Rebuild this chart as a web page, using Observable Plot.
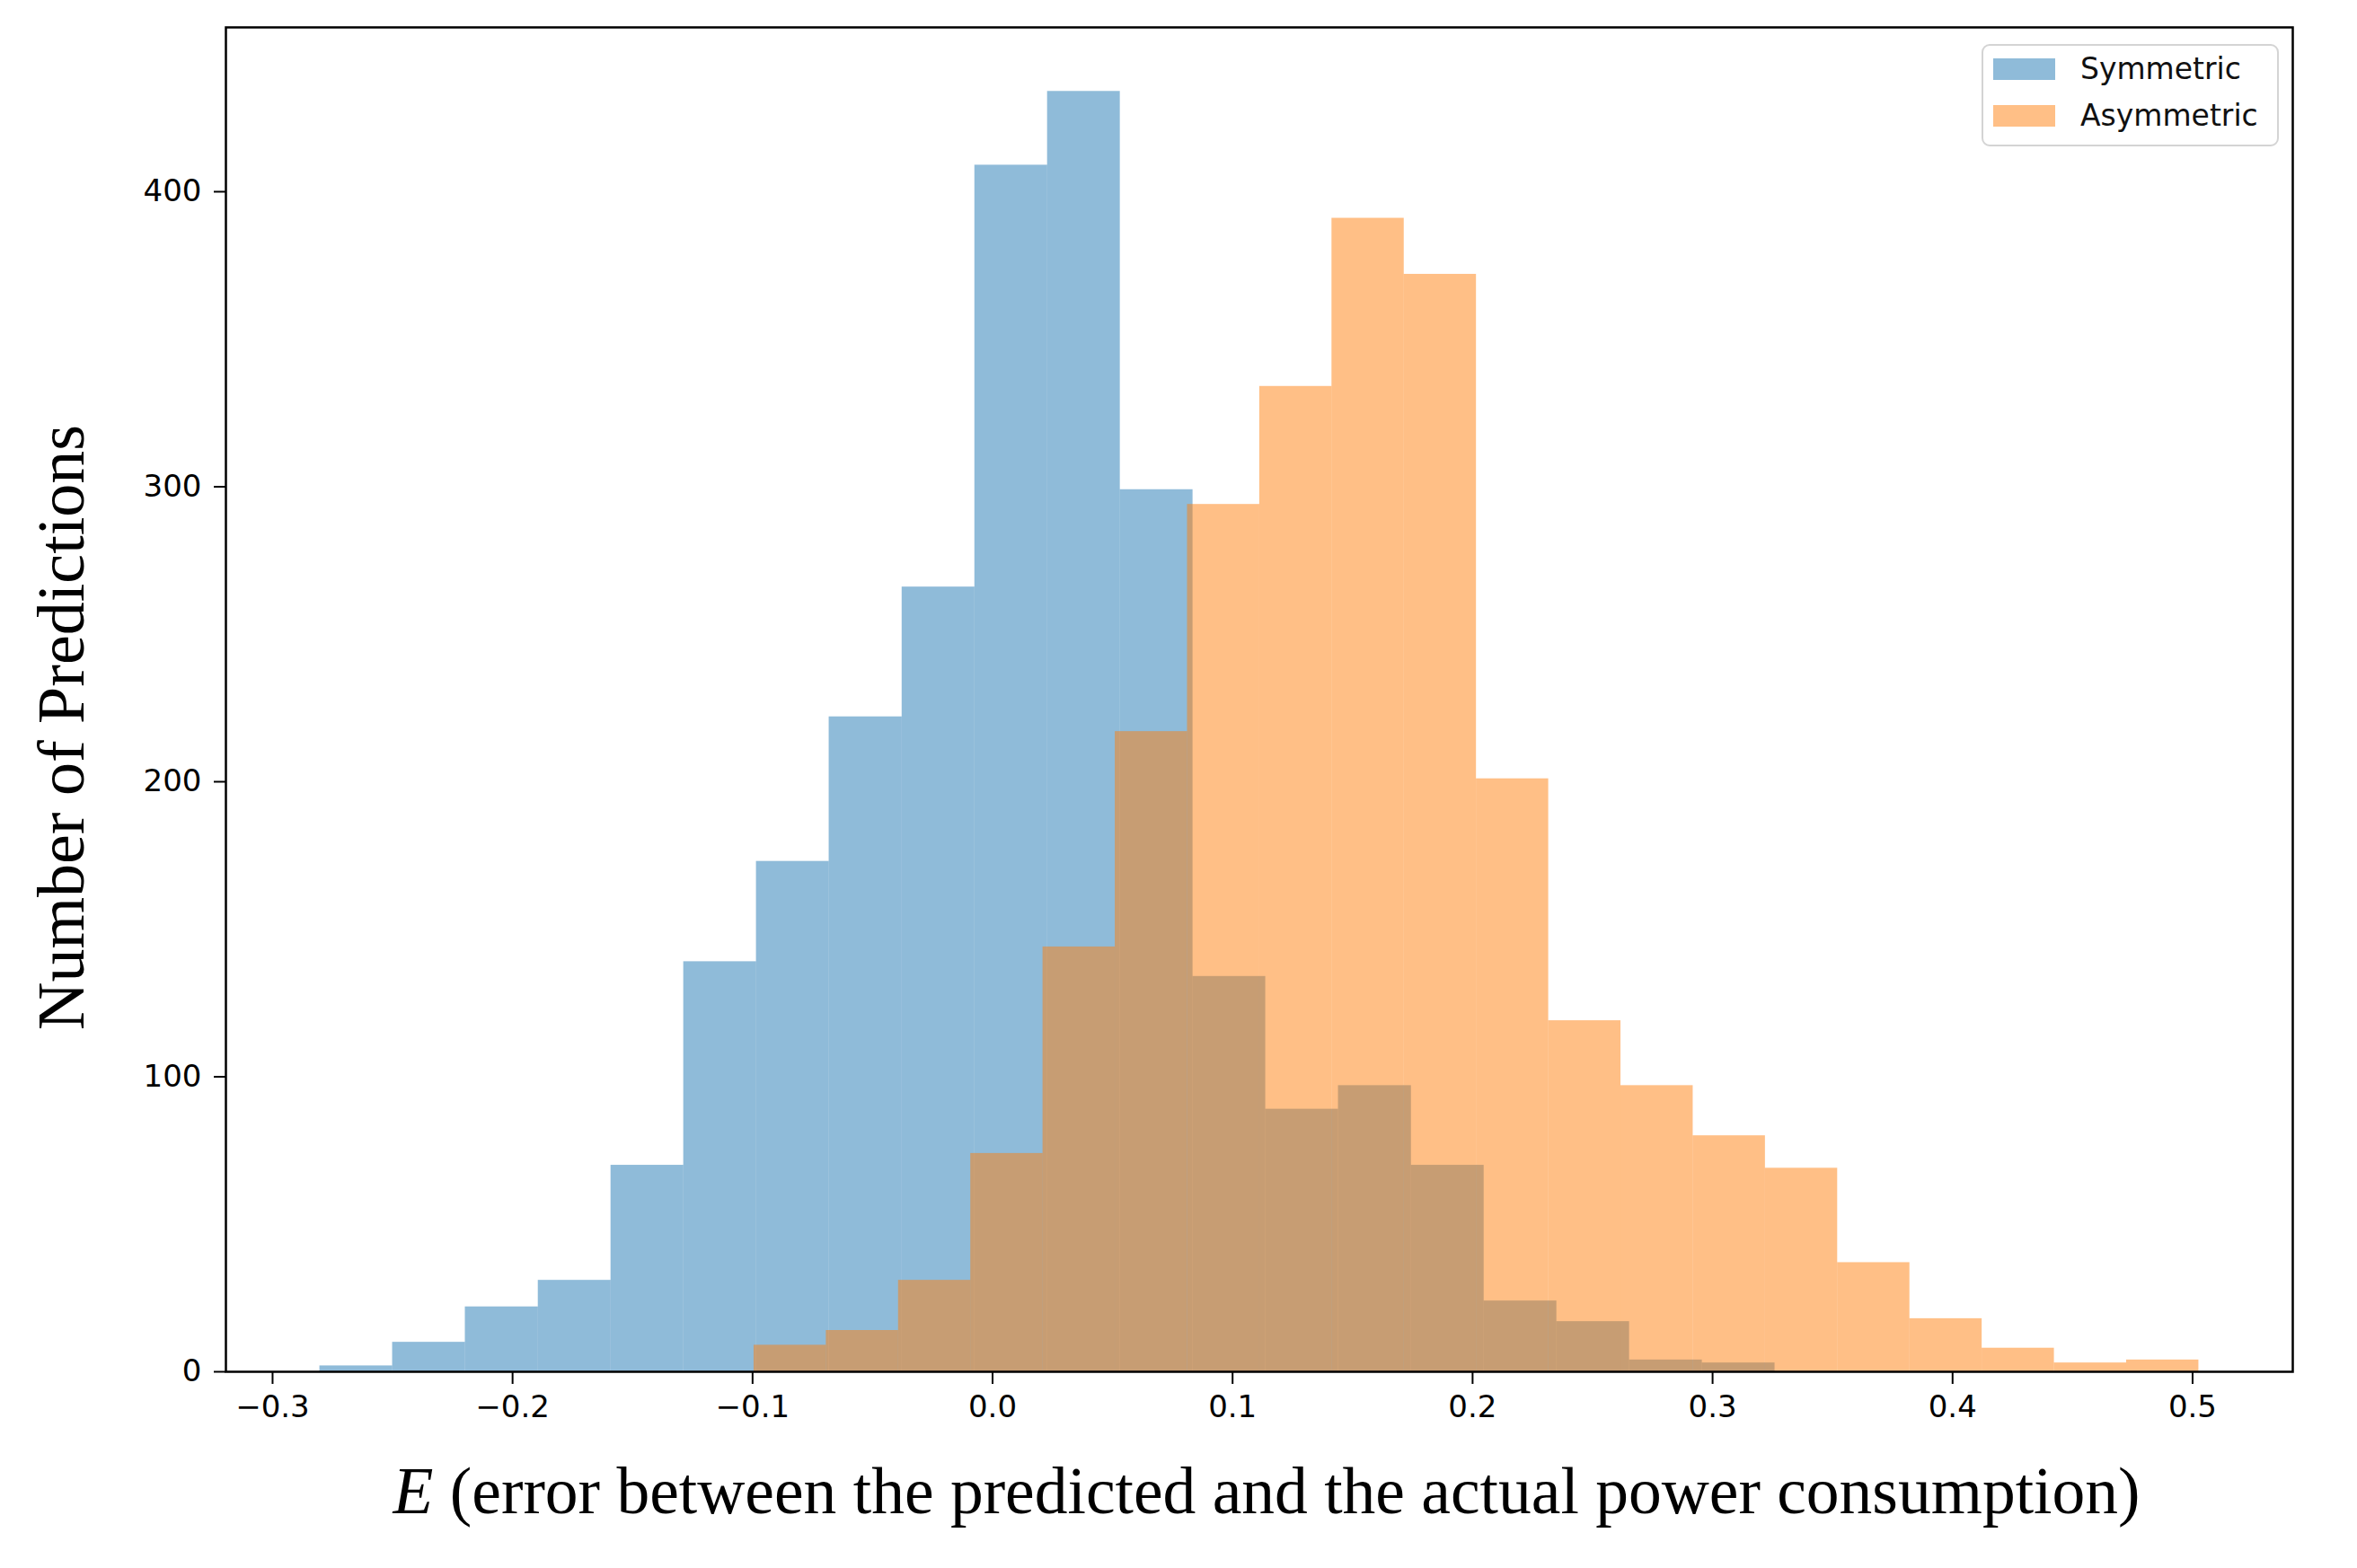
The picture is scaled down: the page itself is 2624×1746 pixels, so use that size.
<!DOCTYPE html>
<html>
<head>
<meta charset="utf-8">
<script src="https://cdn.jsdelivr.net/npm/d3@7"></script>
<script src="https://cdn.jsdelivr.net/npm/@observablehq/plot@0.6"></script>
<style>
  html, body { margin: 0; padding: 0; background: #fff; }
  #wrap { position: relative; width: 2624px; height: 1746px; }
  .legend { position: absolute; left: 2206px; top: 49px; width: 331px; height: 114px;
            border: 2px solid #d4d4d4; border-radius: 9px; background: rgba(255,255,255,0.8);
            box-sizing: border-box; font-family: "DejaVu Sans"; font-size: 33px; color: #111; }
  .legend .sw { position: absolute; left: 11px; width: 69px; height: 24px; }
  .legend .lb { position: absolute; left: 108px; line-height: 36px; white-space: nowrap; }
</style>
</head>
<body>
<div id="wrap"></div>
<script>
// ---- data ----
const seriesNames = ["Symmetric", "Asymmetric"];
const seriesColors = ["#1f77b4", "#ff7f0e"];

const symEdges = [-0.2803, -0.2500, -0.2197, -0.1893, -0.1590, -0.1287, -0.0984, -0.0681, -0.0377, -0.0074,
                  0.0229, 0.0532, 0.0835, 0.1138, 0.1441, 0.1745, 0.2048, 0.2351, 0.2654, 0.2957, 0.3260];
const symCounts = [2, 10, 22, 31, 70, 139, 173, 222, 266, 409, 434, 299, 134, 89, 97, 70, 24, 17, 4, 3];

const asymEdges = [-0.0994, -0.0693, -0.0392, -0.0091, 0.0210, 0.0511, 0.0812, 0.1113, 0.1414, 0.1715,
                   0.2016, 0.2317, 0.2618, 0.2919, 0.3220, 0.3521, 0.3822, 0.4123, 0.4424, 0.4725, 0.5026];
const asymCounts = [9, 14, 31, 74, 144, 217, 294, 334, 391, 372, 201, 119, 97, 80, 69, 37, 18, 8, 3, 4];

const xTicks = [-0.3, -0.2, -0.1, 0.0, 0.1, 0.2, 0.3, 0.4, 0.5];
const xTickLabels = ["\u22120.3", "\u22120.2", "\u22120.1", "0.0", "0.1", "0.2", "0.3", "0.4", "0.5"];
const yTicks = [0, 100, 200, 300, 400];
const yTickLabels = ["0", "100", "200", "300", "400"];

const xTitleItalic = "E";
const xTitleRest = " (error between the predicted and the actual power consumption)";
const yTitle = "Number of Predictions";

// ---- build bins ----
function toRows(name, edges, counts) {
  return counts.map((c, i) => ({series: name, x1: edges[i], x2: edges[i + 1], count: c}));
}
const symRows = toRows(seriesNames[0], symEdges, symCounts);
const asymRows = toRows(seriesNames[1], asymEdges, asymCounts);

const xMin = Math.min(symEdges[0], asymEdges[0]);
const xMax = Math.max(symEdges[symEdges.length - 1], asymEdges[asymEdges.length - 1]);
const xPad = (xMax - xMin) * 0.05;
const yMax = Math.max(...symCounts, ...asymCounts) * 1.05;

const chart = Plot.plot({
  width: 2624,
  height: 1746,
  marginLeft: 251,
  marginRight: 72,
  marginTop: 30,
  marginBottom: 219,
  style: {fontFamily: "DejaVu Sans", fontSize: "33px", color: "black", background: "white"},
  x: {domain: [xMin - xPad, xMax + xPad]},
  y: {domain: [0, yMax]},
  color: {domain: seriesNames, range: seriesColors},
  marks: [
    Plot.rectY(symRows, {x1: "x1", x2: "x2", y: "count", fill: "series", fillOpacity: 0.5, inset: 0}),
    Plot.rectY(asymRows, {x1: "x1", x2: "x2", y: "count", fill: "series", fillOpacity: 0.5, inset: 0}),
    Plot.frame({stroke: "black", strokeWidth: 2.5}),
    Plot.axisX({ticks: xTicks, tickFormat: d => xTickLabels[xTicks.indexOf(d)], tickSize: 14, tickPadding: 12,
                strokeWidth: 2, fontSize: 34, fontFamily: "DejaVu Sans", label: null}),
    Plot.axisY({ticks: yTicks, tickFormat: d => yTickLabels[yTicks.indexOf(d)], tickSize: 13, tickPadding: 14,
                strokeWidth: 2, fontSize: 34, fontFamily: "DejaVu Sans", label: null}),
    Plot.text([yTitle], {frameAnchor: "left", dx: -182, dy: 31, rotate: -90, textAnchor: "middle", lineAnchor: "middle",
                         fontSize: 74, fontFamily: "Liberation Serif", fill: "black"}),
    Plot.text([xTitleItalic + xTitleRest], {frameAnchor: "bottom", dx: 8, dy: 134, textAnchor: "middle", lineAnchor: "middle",
                         fontSize: 73.5, fontFamily: "Liberation Serif", fill: "black"})
  ]
});

// italicise the variable name in the x title
d3.select(chart).selectAll("text").filter(function () {
  return this.textContent === xTitleItalic + xTitleRest;
}).each(function () {
  const t = d3.select(this);
  t.text("");
  t.append("tspan").attr("font-style", "italic").text(xTitleItalic);
  t.append("tspan").text(xTitleRest);
});

const wrap = document.getElementById("wrap");
wrap.appendChild(chart);

// legend
const legend = document.createElement("div");
legend.className = "legend";
seriesNames.forEach((name, i) => {
  const sw = document.createElement("div");
  sw.className = "sw";
  sw.style.top = (14 + i * 52) + "px";
  sw.style.background = seriesColors[i];
  sw.style.opacity = 0.5;
  legend.appendChild(sw);
  const lb = document.createElement("div");
  lb.className = "lb";
  lb.style.top = (8 + i * 52) + "px";
  lb.textContent = name;
  legend.appendChild(lb);
});
wrap.appendChild(legend);
</script>
</body>
</html>
